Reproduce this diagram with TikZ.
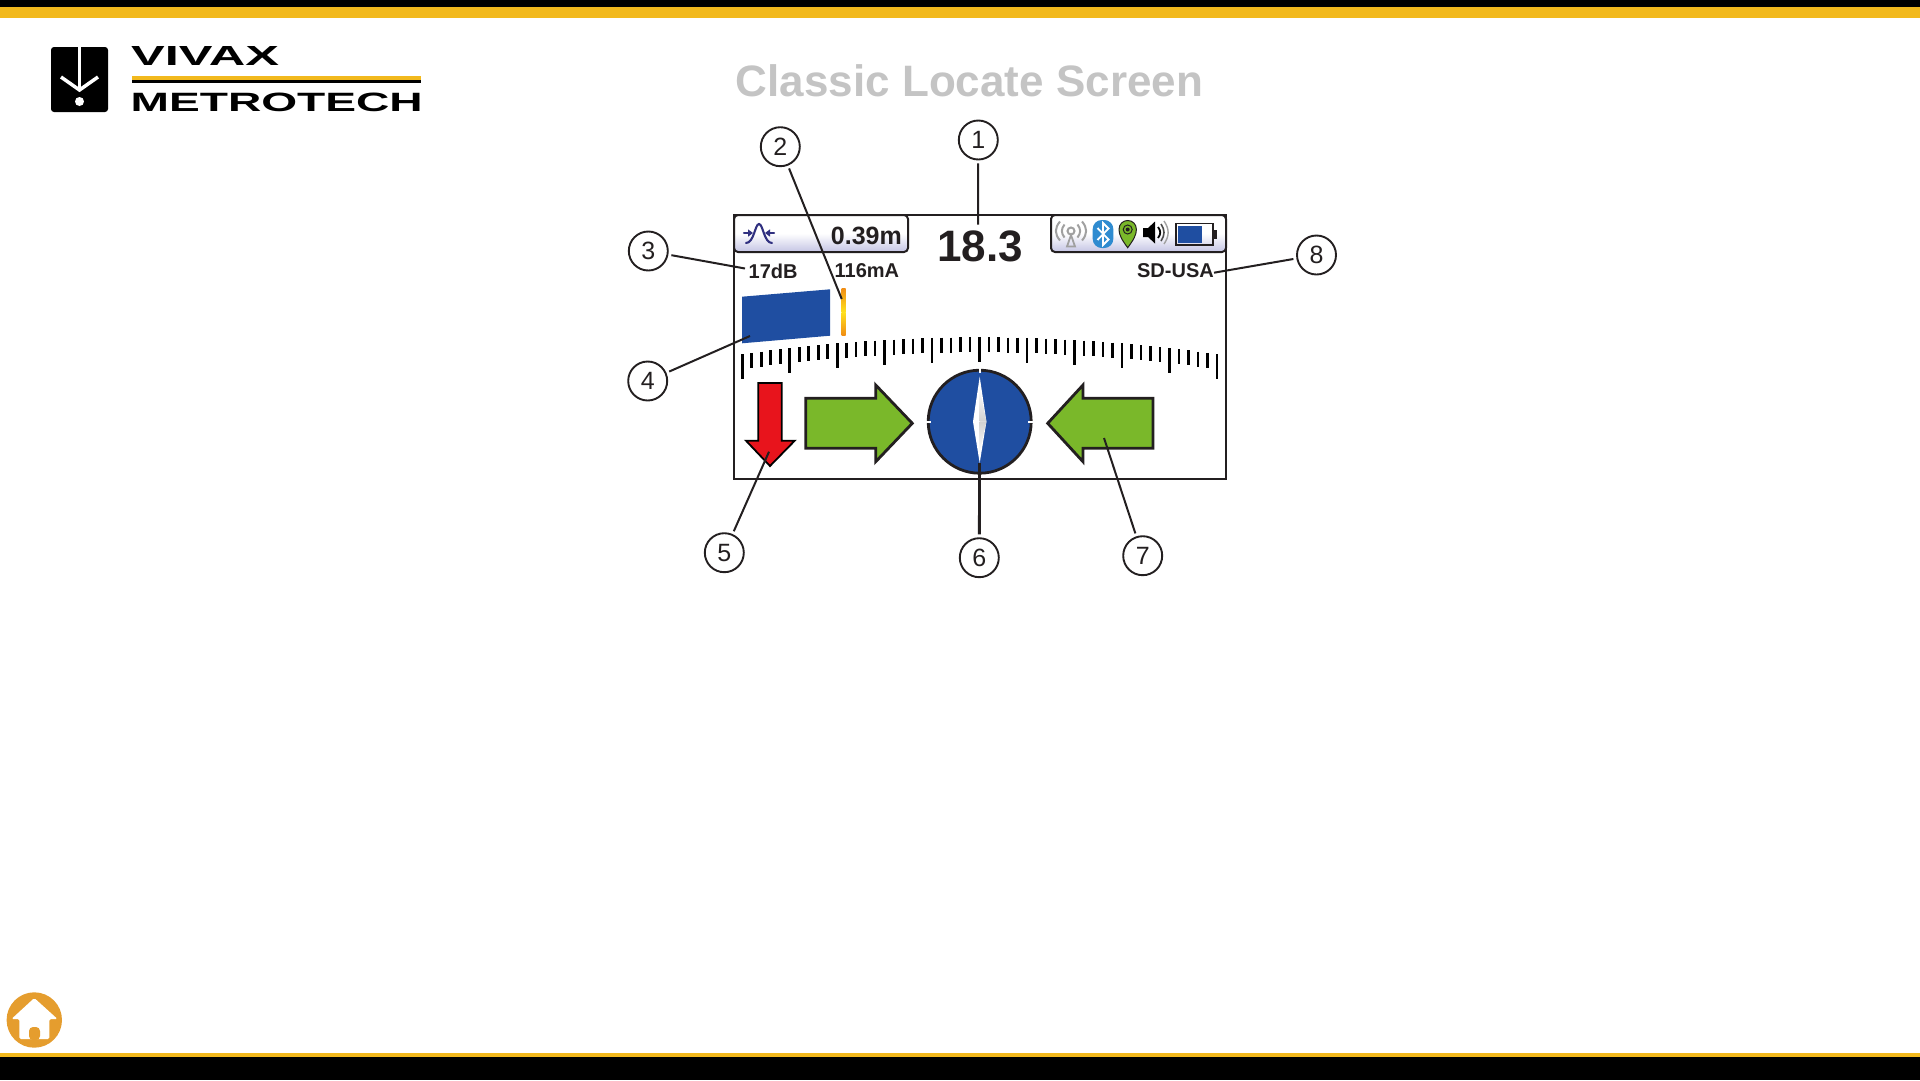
\documentclass[tikz,border=0pt]{standalone}
\usepackage{fontspec}
\setmainfont{Liberation Sans}
\usetikzlibrary{arrows.meta}
\definecolor{vmyellow}{RGB}{242, 185, 29}
\definecolor{vmline}{RGB}{35, 31, 32}
\definecolor{screenblue}{RGB}{31, 78, 161}
\definecolor{arrowgreen}{RGB}{122, 184, 42}
\definecolor{arrowred}{RGB}{232, 20, 28}
\definecolor{homeorange}{RGB}{229, 157, 46}
\definecolor{tablav}{RGB}{196, 196, 228}
\definecolor{iconink}{RGB}{48, 48, 128}
\definecolor{btblue}{RGB}{47, 139, 208}
\definecolor{icongrey}{RGB}{160, 160, 160}
\definecolor{barorange}{RGB}{240, 140, 20}
\definecolor{baryellow}{RGB}{255, 225, 30}

\begin{document}
\begin{tikzpicture}[
  x=1pt, y=-1pt,
  callout/.style={draw=vmline, circle, line width=1.9pt, minimum size=39pt, inner sep=0pt, font=\fontsize{25}{28}\selectfont, text=vmline},
  leader/.style={draw=vmline, line width=2pt, shorten <=3pt},
  readout/.style={inner sep=0pt, font=\fontsize{20}{24}\selectfont\bfseries, text=vmline},
  tabbox/.style={draw=vmline, line width=2pt, rounded corners=4pt, top color=white, bottom color=tablav, middle color=white},
  bigarrow/.style={draw=vmline, line width=2.8pt, fill=arrowgreen, miter limit=10},
  tickmark/.style={draw=black, line width=2.6pt},
  wave/.style={line width=2.1pt, line cap=round}
]
  \useasboundingbox (0,0) rectangle (1920,1080);
  \fill[black] (0,0) rectangle (1920,7);
  \fill[vmyellow] (0,7) rectangle (1920,18);
  \fill[vmyellow] (0,1053) rectangle (1920,1057);
  \fill[black] (0,1057) rectangle (1920,1080);

  % logo
  \fill[black, rounded corners=3pt] (51,47) rectangle (108,112);
  \draw[white, line width=3pt] (79.5,47) -- (79.5,90);
  \draw[white, line width=3.5pt] (61,77) -- (79.5,90) -- (98,77);
  \fill[white] (79.5,101.5) circle (4.5pt);
  \node[anchor=south west, inner sep=0pt] (vivax) at (131,66) {\resizebox{148pt}{19pt}{\bfseries VIVAX}};
  \fill[vmyellow] (132,75.5) rectangle (420.5,80);
  \fill[black] (132,80) rectangle (420.5,82.7);
  \node[anchor=south west, inner sep=0pt] (metrotech) at (130.5,111.5) {\resizebox{292pt}{18.5pt}{\bfseries METROTECH}};

  \node[inner sep=0pt, text=black!23, font=\fontsize{44}{50}\selectfont\bfseries] (title) at (969.5,81) {Classic Locate Screen};

  % home
  \fill[homeorange] (34.3,1020) circle (27.7pt);
  \fill[white, rounded corners=1.5pt] (34.3,998) -- (57.5,1019) -- (49.3,1019) -- (49.3,1039) -- (19.3,1039) -- (19.3,1019) -- (11.5,1019) -- cycle;
  \fill[homeorange, rounded corners=4pt] (29,1040) -- (29,1027) -- (40,1027) -- (40,1040) -- cycle;

  % screen
  \path[tabbox] (734,215) -- (908,215) -- (908,252) -- (734,252) -- cycle;
  \path[tabbox] (1226,215) -- (1051,215) -- (1051,252) -- (1226,252) -- cycle;
  \draw[vmline, line width=2.6pt] (734,215) rectangle (1226,479);

  \draw[iconink, wave] (746,243) .. controls (754,243) and (755,224) .. (759,224) .. controls (763,224) and (764,243) .. (772,243);
  \draw[iconink, wave, -{Triangle[length=5pt, width=7pt]}] (744,233) -- (753,233);
  \draw[iconink, wave, -{Triangle[length=5pt, width=7pt]}] (774,233) -- (765,233);

  \draw[icongrey, line width=2pt] (1071,231) circle (3.5pt);
  \draw[icongrey, line width=1.8pt] (1071,235) -- (1067,246.5) -- (1075,246.5) -- cycle;
  \draw[icongrey, line width=2pt] (1064.5,224.5) .. controls (1061,229) and (1061,233) .. (1064.5,237.5);
  \draw[icongrey, line width=2pt] (1077.5,224.5) .. controls (1081,229) and (1081,233) .. (1077.5,237.5);
  \draw[icongrey, line width=2pt] (1060,221.5) .. controls (1054.5,228) and (1054.5,234) .. (1060,240.5);
  \draw[icongrey, line width=2pt] (1082,221.5) .. controls (1087.5,228) and (1087.5,234) .. (1082,240.5);

  \fill[btblue, rounded corners=9pt] (1092.7,220) rectangle (1113.3,248);
  \draw[white, line width=1.8pt] (1097.5,228) -- (1108.5,239.5) -- (1103,245) -- (1103,223) -- (1108.5,228.5) -- (1097.5,240);

  \draw[vmline, fill=arrowgreen, line width=1pt] (1127.7,247.7) .. controls (1122,240) and (1119,235) .. (1119,229.5) .. controls (1119,224) and (1123,220.5) .. (1127.7,220.5) .. controls (1132.4,220.5) and (1136.4,224) .. (1136.4,229.5) .. controls (1136.4,235) and (1133.4,240) .. (1127.7,247.7) -- cycle;
  \draw[vmline, line width=1pt] (1127.7,229.5) circle (4.5pt);
  \fill[vmline] (1127.7,229.5) circle (2pt);

  \fill[black] (1143,228) -- (1148,228) -- (1155,221.5) -- (1155,243.5) -- (1148,237) -- (1143,237) -- cycle;
  \draw[black, line width=1.8pt] (1158,227) .. controls (1161,231) and (1161,234) .. (1158,238);
  \draw[black!70, line width=1.6pt] (1161,224) .. controls (1165,230) and (1165,235) .. (1161,241);
  \draw[icongrey, line width=1.4pt] (1164,221) .. controls (1169.5,229) and (1169.5,236) .. (1164,244);

  \draw[vmline, line width=1.8pt] (1176,223.5) rectangle (1213.3,245);
  \fill[screenblue] (1178,225.5) rectangle (1201.7,243);
  \fill[vmline] (1213.3,230) rectangle (1216.5,238.5);

  \node[readout, anchor=east, font=\fontsize{25}{28}\selectfont\bfseries] (depth) at (902,236) {0.39m};
  \node[inner sep=0pt, text=vmline, font=\fontsize{44}{50}\selectfont\bfseries] (value) at (980,246.5) {18.3};
  \node[readout, anchor=west] (gain) at (748.5,271) {17dB};
  \node[readout, anchor=west] (current) at (834.5,271) {116mA};
  \node[readout, anchor=east] (mode) at (1214,271) {SD-USA};

  \fill[screenblue] (742,296.7) -- (830,289.3) -- (830,335.7) -- (742,343.3) -- cycle;
  \shade[top color=barorange, bottom color=baryellow] (841.5,288) rectangle (845.7,312);
  \shade[top color=baryellow, bottom color=barorange] (841.5,312) rectangle (845.7,335.7);

  \foreach \i in {0,...,50} {
    \pgfmathsetmacro{\tx}{742.3+9.49*\i}
    \pgfmathsetmacro{\ty}{337.3+17*((\tx-979.5)/237.2)*((\tx-979.5)/237.2)}
    \pgfmathsetmacro{\tl}{ifthenelse(mod(\i,5)==0,25,15)}
    \draw[tickmark] (\tx,\ty) -- (\tx,\ty+\tl);
  }

  \draw[draw=black, line width=1.8pt, fill=arrowred] (758.3,383) -- (781.7,383) -- (781.7,440.7) -- (794.7,440.7) -- (770,466) -- (746,440.7) -- (758.3,440.7) -- cycle;
  \draw[bigarrow] (805.7,398.3) -- (875.7,398.3) -- (875.7,385) -- (912.3,423.3) -- (875.7,461.7) -- (875.7,448.3) -- (805.7,448.3) -- cycle;
  \draw[bigarrow] (1153,398.3) -- (1083,398.3) -- (1083,385) -- (1047.7,423.3) -- (1083,461.7) -- (1083,448.3) -- (1153,448.3) -- cycle;

  \draw[vmline, line width=2.8pt, fill=screenblue] (979.7,421.7) circle (51.5pt);
  \draw[white, line width=1.8pt] (979.7,368) -- (979.7,373);
  \draw[white, line width=1.8pt] (926,421.7) -- (931,421.7);
  \draw[white, line width=1.8pt] (1028.4,421.7) -- (1033.4,421.7);
  \fill[white] (979.7,376.7) -- (986.4,421.7) -- (979.7,463) -- (973,421.7) -- cycle;
  \shade[top color=white, bottom color=black!18] (979.7,388) -- (986.4,421.7) -- (979.7,421.7) -- cycle;
  \shade[top color=black!18, bottom color=white] (979.7,421.7) -- (986.4,421.7) -- (979.7,452) -- cycle;

  \node[callout] (n1) at (978.3,140) {1};
  \node[callout] (n2) at (780.3,146.7) {2};
  \node[callout] (n3) at (648.3,251) {3};
  \node[callout] (n4) at (647.7,381) {4};
  \node[callout] (n5) at (724.3,552.7) {5};
  \node[callout] (n6) at (979.3,557.7) {6};
  \node[callout] (n7) at (1142.7,555.7) {7};
  \node[callout] (n8) at (1316.5,255) {8};

  \coordinate (t1) at (978,224.5);
  \coordinate (t2) at (841.7,299);
  \coordinate (t3) at (745,268.5);
  \coordinate (t4) at (750,336);
  \coordinate (t5) at (769,451.7);
  \coordinate (t6) at (979.5,463);
  \coordinate (t7) at (1104,438);
  \coordinate (t8) at (1214,272.7);

  \draw[leader] (n1) -- (t1);
  \draw[leader] (n2) -- (t2);
  \draw[leader] (n3) -- (t3);
  \draw[leader] (n4) -- (t4);
  \draw[leader] (n5) -- (t5);
  \draw[leader, line width=2.8pt] (n6) -- (t6);
  \draw[leader] (n7) -- (t7);
  \draw[leader] (n8) -- (t8);
\end{tikzpicture}
\end{document}
